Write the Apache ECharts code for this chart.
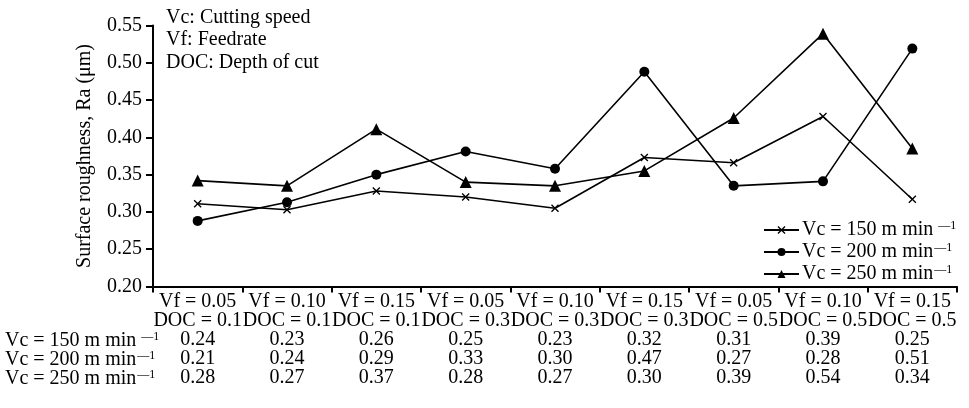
<!DOCTYPE html>
<html>
<head>
<meta charset="utf-8">
<script src="https://cdn.jsdelivr.net/npm/echarts@6/dist/echarts.min.js"></script>
<style>
html,body{margin:0;padding:0;background:#fff;}
#c{width:969px;height:408px;}
</style>
</head>
<body>
<div id="c"></div>
<script>
// ---- data ----
const vfLabels = ['0.05', '0.10', '0.15', '0.05', '0.10', '0.15', '0.05', '0.10', '0.15'];
const docLabels = ['0.1', '0.1', '0.1', '0.3', '0.3', '0.3', '0.5', '0.5', '0.5'];
const seriesNames = ['150', '200', '250'];
const ra150 = [0.311, 0.303, 0.328, 0.320, 0.305, 0.373, 0.366, 0.428, 0.317];
const ra200 = [0.288, 0.313, 0.350, 0.381, 0.358, 0.488, 0.335, 0.341, 0.519];
const ra250 = [0.342, 0.335, 0.411, 0.340, 0.335, 0.355, 0.426, 0.539, 0.385];
const table150 = ['0.24', '0.23', '0.26', '0.25', '0.23', '0.32', '0.31', '0.39', '0.25'];
const table200 = ['0.21', '0.24', '0.29', '0.33', '0.30', '0.47', '0.27', '0.28', '0.51'];
const table250 = ['0.28', '0.27', '0.37', '0.28', '0.27', '0.30', '0.39', '0.54', '0.34'];
const yTicks = [0.20, 0.25, 0.30, 0.35, 0.40, 0.45, 0.50, 0.55];

// ---- layout ----
const FONT = "'Liberation Serif', 'Times New Roman', serif";
const FS = 20;
const LH = 19;
const gridLeft = 153, gridTop = 25.5, gridBottom = 121.5, gridRight = 12;
const labelMargin = 6;
const categories = vfLabels.map((v, i) => 'Vf = ' + v + '\nDOC = ' + docLabels[i]);
const tables = [table150, table200, table250];

const crossPath = 'path://M0,1.2 L1.2,0 L5,3.8 L8.8,0 L10,1.2 L6.2,5 L10,8.8 L8.8,10 L5,6.2 L1.2,10 L0,8.8 L3.8,5 Z';
const symbols = [crossPath, 'circle', 'triangle'];
const symbolSizes = [8, 10, 12];
const dataSets = [ra150, ra200, ra250];

const legendName = n => 'Vc = ' + n + ' m min';
const supStyle = pad => ({ fontFamily: FONT, fontSize: 12, color: '#000', verticalAlign: 'top', lineHeight: 11, padding: [0, 0, 0, pad] });
const supRich = {
  a: { fontFamily: FONT, fontSize: FS, color: '#000' },
  s: supStyle(1),
  g: supStyle(5)
};
const supText = n => '{a|' + legendName(n) + '}{' + (n === '150' ? 'g' : 's') + '|\u20141}';

const chart = echarts.init(document.getElementById('c'), null, { renderer: 'canvas' });

const axisY = 408 - gridBottom;
const rowLabelGraphics = seriesNames.map((n, i) => ({
  type: 'text',
  left: 5,
  top: axisY + labelMargin + LH * (2 + i),
  style: {
    text: supText(n),
    rich: supRich,
    lineHeight: LH
  }
}));

const option = {
  backgroundColor: '#fff',
  animation: false,
  grid: { left: gridLeft, right: gridRight, top: gridTop, bottom: gridBottom, containLabel: false },
  legend: {
    orient: 'vertical',
    left: 763,
    top: 220,
    itemGap: 2,
    itemWidth: 35,
    itemHeight: 10,
    padding: 0,
    formatter: name => supText(name.replace('Vc = ', '').replace(' m min', '')),
    textStyle: { fontFamily: FONT, fontSize: FS, color: '#000', padding: [0, 0, 0, -2], rich: supRich },
    data: seriesNames.map(legendName)
  },
  xAxis: {
    type: 'category',
    data: categories,
    boundaryGap: true,
    axisLine: { lineStyle: { color: '#000', width: 2 } },
    axisTick: { show: true, length: 6, inside: false, alignWithLabel: false, lineStyle: { color: '#000', width: 2 } },
    axisLabel: {
      interval: 0,
      margin: labelMargin,
      fontFamily: FONT,
      fontSize: FS,
      color: '#000',
      lineHeight: LH,
      align: 'center',
      formatter: (value, idx) => value + '\n' + tables.map(t => t[idx]).join('\n')
    },
    splitLine: { show: false }
  },
  yAxis: {
    type: 'value',
    min: 0.20,
    max: 0.55,
    interval: 0.05,
    name: 'Surface roughness, Ra (\u03bcm)',
    nameLocation: 'middle',
    nameGap: 58,
    nameTextStyle: { fontFamily: FONT, fontSize: FS, color: '#000' },
    axisLine: { show: true, lineStyle: { color: '#000', width: 2 } },
    axisTick: { show: true, length: 7, lineStyle: { color: '#000', width: 2 } },
    axisLabel: {
      margin: 11,
      fontFamily: FONT,
      fontSize: FS,
      color: '#000',
      formatter: v => {
        const t = yTicks.find(x => Math.abs(x - v) < 1e-9);
        return (t !== undefined ? t : v).toFixed(2);
      }
    },
    splitLine: { show: false }
  },
  graphic: [
    {
      type: 'text',
      left: 166,
      top: 6,
      style: {
        text: 'Vc: Cutting speed\nVf: Feedrate\nDOC: Depth of cut',
        fontFamily: FONT,
        fontSize: FS,
        lineHeight: 22.5,
        fill: '#000'
      }
    },
    ...rowLabelGraphics
  ],
  series: seriesNames.map((n, i) => ({
    name: legendName(n),
    type: 'line',
    data: dataSets[i],
    symbol: symbols[i],
    symbolSize: symbolSizes[i],
    showAllSymbol: true,
    lineStyle: { color: '#000', width: 1.6 },
    itemStyle: { color: '#000' },
    z: 3 + i
  }))
};

chart.setOption(option);
</script>
</body>
</html>
